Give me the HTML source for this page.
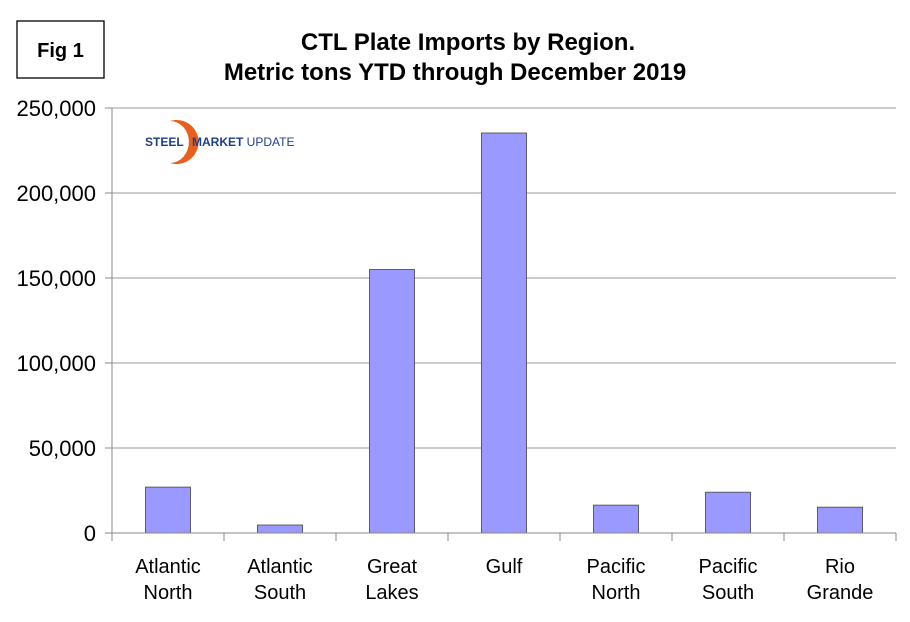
<!DOCTYPE html>
<html><head><meta charset="utf-8"><style>
body{margin:0;background:#fff;}
svg{display:block;font-family:"Liberation Sans",Arial,sans-serif;}
</style></head><body>
<svg width="910" height="622" id="c">
<rect x="17" y="21" width="87" height="57" fill="#fff" stroke="#000" stroke-width="1.3"/>
<text x="60.5" y="57" text-anchor="middle" font-size="20" font-weight="bold">Fig 1</text>
<text x="468" y="50" text-anchor="middle" font-size="24" font-weight="bold">CTL Plate Imports by Region.</text>
<text x="455" y="80" text-anchor="middle" font-size="24" font-weight="bold">Metric tons YTD through December 2019</text>
<g id="grid"></g>
<g id="bars"></g>
<g id="axes"></g>
<g>
<path d="M170 121 A22 22 0 1 1 170 163 A18 20 0 1 0 170 121 Z" fill="#e8601c"/>
<text x="145" y="146" font-size="12" font-weight="bold" fill="#1f3f8a">STEEL</text>
<text x="192" y="146" font-size="12" fill="#1f3f8a"><tspan font-weight="bold">MARKET</tspan> UPDATE</text>
</g>
</svg>
<script>
const categories=[["Atlantic","North"],["Atlantic","South"],["Great","Lakes"],["Gulf"],["Pacific","North"],["Pacific","South"],["Rio","Grande"]];
const values=[27000,4700,155000,235300,16400,24000,15200];
const ticks=[0,50000,100000,150000,200000,250000];
const tickLabels=["0","50,000","100,000","150,000","200,000","250,000"];
const NS="http://www.w3.org/2000/svg";
const x0=112,x1=896,y0=533,yTop=108,ymax=250000;
const cw=(x1-x0)/categories.length;
const y=v=>y0-(v/ymax)*(y0-yTop);
const xc=i=>x0+cw*(i+0.5);
function mk(t,a,p){const e=document.createElementNS(NS,t);for(const k in a)e.setAttribute(k,a[k]);p.appendChild(e);return e;}
const grid=document.getElementById('grid'),bars=document.getElementById('bars'),axes=document.getElementById('axes');
ticks.forEach((t,i)=>{
 const yy=y(t);
 if(t>0){const g=mk('line',{x1:x0,x2:x1,y1:yy,y2:yy,stroke:'#999','stroke-width':1},grid);
 
 }
 const tk=mk('line',{x1:x0-7,x2:x0,y1:yy,y2:yy,stroke:'#888'},axes);
 
 
 const l=mk('text',{x:96,y:yy+8,'text-anchor':'end','font-size':22},axes);
 l.textContent=tickLabels[i];
 
 
});
values.forEach((v,i)=>{
 const r=mk('rect',{x:xc(i)-22.5,y:y(v),width:45,height:y0-y(v),fill:'#9999ff',stroke:'#444','stroke-width':0.8},bars);
 
 
});
let a=mk('line',{x1:x0,x2:x0,y1:yTop,y2:y0+8,stroke:'#888'},axes);


a=mk('line',{x1:x0-7,x2:x1,y1:y0,y2:y0,stroke:'#888'},axes);


categories.forEach((c,i)=>{
 const tk=mk('line',{x1:x0+cw*(i+1),x2:x0+cw*(i+1),y1:y0,y2:y0+8,stroke:'#888'},axes);
 
 
 c.forEach((w,j)=>{
  const t=mk('text',{x:xc(i),y:573+j*26,'text-anchor':'middle','font-size':20},axes);
  t.textContent=w;
  
  
 });
});
</script>
</body></html>
